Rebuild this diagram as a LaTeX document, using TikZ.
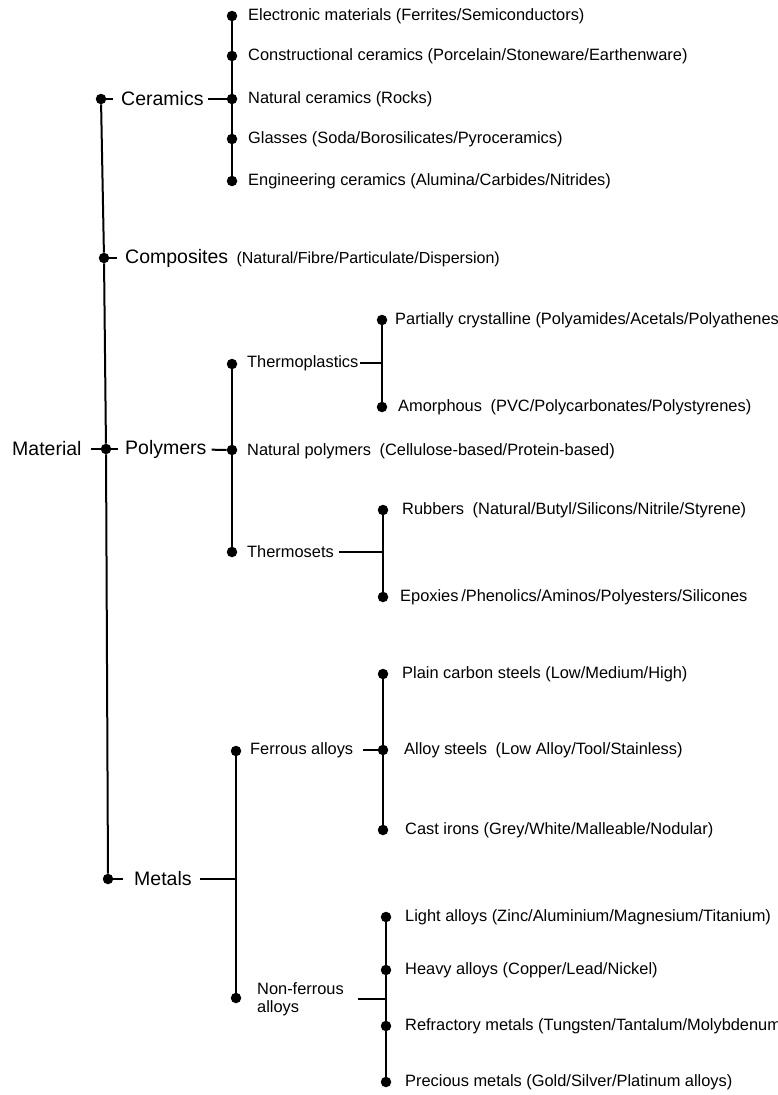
\documentclass[tikz,border=0pt]{standalone}
\usepackage{fontspec}
\setmainfont{Liberation Sans}
\begin{document}
\begin{tikzpicture}[x=1pt,y=-1pt,
  dot/.style={circle,fill=black,inner sep=0pt,minimum size=10.5pt},
  big/.style={anchor=west,inner sep=0pt,font=\fontsize{19.5}{23}\selectfont},
  item/.style={anchor=west,inner sep=0pt,font=\fontsize{16.4}{19}\selectfont},
  ln/.style={line width=2pt}]
\useasboundingbox (0,0) rectangle (777,1095);

% ---------- main spine ----------
\node[big] (mat) at (12,449) {Material};
\node[dot] (dc)  at (101,99)  {};
\node[dot] (dco) at (104,258) {};
\node[dot] (dp)  at (106,449) {};
\node[dot] (dm)  at (108,879) {};
\draw[ln] (dc) -- (dco) -- (dp) -- (dm);

% ---------- Ceramics ----------
\node[big] (cer) at (121,99) {Ceramics};
\draw[ln,shorten >=8pt] (dc) -- (cer);
\node[dot] (c1) at (232,16)  {};
\node[dot] (c2) at (232,56)  {};
\node[dot] (c3) at (232,99)  {};
\node[dot] (c4) at (232,139) {};
\node[dot] (c5) at (232,181) {};
\draw[ln,shorten <=4pt] (cer) -- (c3);
\draw[ln] (c1) -- (c5);
\node[item] (c1t) at (248,16)  {Electronic materials (Ferrites/Semiconductors)};
\node[item] (c2t) at (248,56)  {Constructional ceramics (Porcelain/Stoneware/Earthenware)};
\node[item] (c3t) at (248,99)  {Natural ceramics (Rocks)};
\node[item] (c4t) at (248,139) {Glasses (Soda/Borosilicates/Pyroceramics)};
\node[item] (c5t) at (248,181) {Engineering ceramics (Alumina/Carbides/Nitrides)};

% ---------- Composites ----------
\node[big] (com) at (125,258) {Composites};
\node[item,anchor=base west,font=\fontsize{16}{19}\selectfont] (comx) at ([xshift=8pt]com.base east) {(Natural/Fibre/Particulate/Dispersion)};
\draw[ln,shorten >=8pt] (dco) -- (com);

% ---------- Polymers ----------
\node[big] (pol) at (125,449) {Polymers};
\draw[ln,shorten <=9pt,shorten >=7pt] (mat) -- (pol);
\node[dot] (p1) at (232,364) {};
\node[dot] (p2) at (232,450) {};
\node[dot] (p3) at (232,552) {};
\draw[ln,shorten <=5pt] (pol) -- (p2);
\draw[ln] (p1) -- (p3);
\node[item] (tp) at (247,363) {Thermoplastics};
\node[item] (np) at (247,451) {Natural polymers\hspace{4pt} (Cellulose-based/Protein-based)};
\node[item] (ts) at (247,552) {Thermosets};

\coordinate (jtp) at (382,363);
\node[dot] (pc) at (382,320) {};
\node[dot] (am) at (382,407) {};
\draw[ln] (pc) -- (am);
\draw[ln,shorten <=1pt] (tp) -- (jtp);
\node[item] (pct) at (395,320) {Partially crystalline (Polyamides/Acetals/Polyathenes)};
\node[item] (amt) at (398,407) {Amorphous\hspace{4pt} (PVC/Polycarbonates/Polystyrenes)};

\coordinate (jts) at (383,552);
\node[dot] (rb) at (383,510) {};
\node[dot] (ep) at (383,597) {};
\draw[ln] (rb) -- (ep);
\draw[ln,shorten <=5pt] (ts) -- (jts);
\node[item] (rbt) at (402,510) {Rubbers\hspace{4pt} (Natural/Butyl/Silicons/Nitrile/Styrene)};
\node[item] (ept) at (400,597) {Epoxies\,/Phenolics/Aminos/Polyesters/Silicones};

% ---------- Metals ----------
\node[big] (met) at (134,879) {Metals};
\draw[ln,shorten >=11pt] (dm) -- (met);
\coordinate (jm) at (236,879);
\draw[ln,shorten <=8pt] (met) -- (jm);
\node[dot] (fe) at (236,751) {};
\node[dot] (nf) at (236,998) {};
\draw[ln] (fe) -- (nf);

\node[item] (fet) at (250,750) {Ferrous alloys};
\node[dot] (fa) at (383,750) {};
\draw[ln,shorten <=10pt] (fet) -- (fa);
\node[dot] (ps) at (383,674) {};
\node[dot] (cs) at (383,830) {};
\draw[ln] (ps) -- (cs);
\node[item] (pst) at (402,674) {Plain carbon steels (Low/Medium/High)};
\node[item] (fat) at (404,750) {Alloy steels\hspace{4pt} (Low Alloy/Tool/Stainless)};
\node[item] (cst) at (405,830) {Cast irons (Grey/White/Malleable/Nodular)};

\node[item,align=left,font=\fontsize{16.4}{18}\selectfont] (nft) at (257,999) {Non-ferrous\\alloys};
\coordinate (jnf) at (386,999);
\draw[ln,shorten <=14pt] (nft) -- (jnf);
\node[dot] (la) at (386,917)  {};
\node[dot] (ha) at (386,970)  {};
\node[dot] (rm) at (386,1026) {};
\node[dot] (pm) at (386,1082) {};
\draw[ln] (la) -- (pm);
\node[item] (lat) at (405,917)  {Light alloys (Zinc/Aluminium/Magnesium/Titanium)};
\node[item] (hat) at (405,970)  {Heavy alloys (Copper/Lead/Nickel)};
\node[item] (rmt) at (405,1026) {Refractory metals (Tungsten/Tantalum/Molybdenum)};
\node[item] (pmt) at (405,1082) {Precious metals (Gold/Silver/Platinum alloys)};
\end{tikzpicture}
\end{document}
